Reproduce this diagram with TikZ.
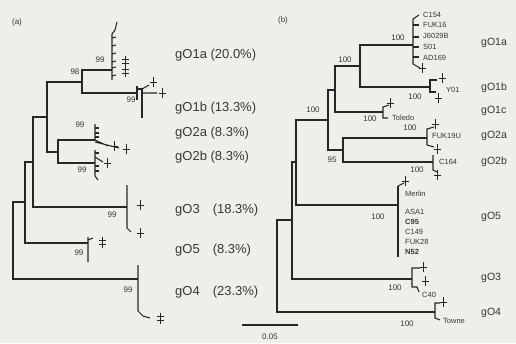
\documentclass[tikz,border=0pt]{standalone}
\usepackage{fontspec}
\setmainfont{Liberation Sans}
\usetikzlibrary{positioning}
\definecolor{paper}{HTML}{EFEFEA}
\definecolor{ink}{HTML}{262626}
\definecolor{txt}{HTML}{363636}
\tikzset{
  tipplus/.pic={\draw[draw=ink,line width=0.9pt] (-3.5,0) -- (3.5,0) (0,-5) -- (0,5);},
  tipdbl/.pic={\draw[draw=ink,line width=0.9pt] (-3.5,-1.8) -- (3.5,-1.8) (-3.5,2) -- (3.5,2) (0,-5.5) -- (0,5.5);}
}
\begin{document}
\begin{tikzpicture}[x=1pt,y=-1pt,
    branch/.style={draw=ink,line width=1.2pt},
    tip/.style={draw=ink,line width=1.05pt},
    boot/.style={text=txt,inner sep=0pt,font=\fontsize{8}{8}\selectfont},
    strain/.style={text=txt,inner sep=0pt,anchor=west,font=\fontsize{7.5}{7.5}\selectfont},
    cladea/.style={text=txt,inner sep=0pt,anchor=west,font=\fontsize{13}{13}\selectfont},
    cladeb/.style={text=txt,inner sep=0pt,anchor=west,font=\fontsize{10.5}{10.5}\selectfont}]
            \fill[paper] (0,0) rectangle (516,343);
            \useasboundingbox (0,0) rectangle (516,343);

            \node[text=txt,font=\fontsize{8}{8}\selectfont] (pa) at (17,22) {(a)};
            \node[text=txt,font=\fontsize{8}{8}\selectfont] (pb) at (283,20) {(b)};

            \coordinate (aR) at (13,241);
            \coordinate (aA) at (25,202);
            \coordinate (aB) at (33,162);
            \coordinate (aC) at (47,117);
            \coordinate (aD) at (82,82);
            \coordinate (aE) at (58,152);
            \coordinate (aO1a) at (112,70);
            \coordinate (aO1b) at (137,93);
            \coordinate (aO2a) at (95,140);
            \coordinate (aO2b) at (95,163);
            \coordinate (aO3) at (127,207);
            \coordinate (aO5) at (88,243);
            \coordinate (aO4) at (138,279);

            \draw[branch] (aR) |- (aA) (aR) |- (aO4) (aA) |- (aB) (aA) |- (aO5)
                (aB) |- (aC) (aB) |- (aO3) (aC) |- (aD) (aC) |- (aE)
                (aD) |- (aO1a) (aD) |- (aO1b) (aE) |- (aO2a) (aE) |- (aO2b);

            \draw[tip] (112,80) -- (112,34) -- (115,30) -- (117,22);
            \foreach \y in {38,46,54,62,68,76} \draw[tip] (112,\y) -- +(4,-1);
            \pic at (125,61) {tipdbl};
            \pic at (125,71) {tipdbl};

            \draw[tip] (137,86) -- (137,100);
            \draw[tip] (137,89) -- (142,89) -- (142,118);
            \draw[tip] (142,89) -- (149,85) (142,93) -- (157,93);
            \pic at (153,82) {tipplus};
            \pic at (162,93) {tipplus};

            \draw[tip] (95,124) -- (95,140) -- (108,146) (95,142) -- (119,148);
            \foreach \y in {128,133,137} \draw[tip] (95,\y) -- +(4,0);
            \pic at (114,146) {tipplus};
            \pic at (126,149) {tipplus};
            \draw[tip] (95,150) -- (95,176) -- (98,180) (95,157) -- (103,162);
            \foreach \y in {153,166,171} \draw[tip] (95,\y) -- +(4,0);
            \pic at (107,163) {tipplus};

            \draw[tip] (127,185) -- (127,228) -- (131,232);
            \pic at (140,205) {tipplus};
            \pic at (140,233) {tipplus};
            \draw[tip] (88,237) -- (88,262) (88,240) -- (93,238);
            \pic at (102,242) {tipdbl};
            \draw[tip] (138,265) -- (138,311) -- (143,316) -- (150,318);
            \pic at (160,318) {tipdbl};

            \node[boot] (aB1) at (100,60) {99};
            \node[boot] (aB2) at (75,72) {98};
            \node[boot] (aB3) at (131,100) {99};
            \node[boot] (aB4) at (80,125) {99};
            \node[boot] (aB5) at (82,170) {99};
            \node[boot] (aB6) at (112,215) {99};
            \node[boot] (aB7) at (79,253) {99};
            \node[boot] (aB8) at (128,290) {99};

            \node[cladea] (aL1a) at (175,55) {gO1a (20.0\%)};
            \node[cladea] (aL1b) at (175,108) {gO1b (13.3\%)};
            \node[cladea] (aL2a) at (175,133) {gO2a (8.3\%)};
            \node[cladea] (aL2b) at (175,157) {gO2b (8.3\%)};
            \node[cladea] (aL3) at (175,210) {gO3\quad(18.3\%)};
            \node[cladea] (aL5) at (175,250) {gO5\quad(8.3\%)};
            \node[cladea] (aL4) at (175,292) {gO4\quad(23.3\%)};

            \coordinate (bR) at (277,267);
            \coordinate (bA) at (292,220);
            \coordinate (bB) at (296,162);
            \coordinate (bC) at (328,120);
            \coordinate (bD) at (335,90);
            \coordinate (bE) at (343,150);
            \coordinate (bF) at (360,66);
            \coordinate (bO1a) at (413,45);
            \coordinate (bO1b) at (430,87);
            \coordinate (bO1c) at (383,112);
            \coordinate (bO2a) at (427,138);
            \coordinate (bO2b) at (433,162);
            \coordinate (bO5) at (398,205);
            \coordinate (bO3) at (412,279);
            \coordinate (bO4) at (435,312);

            \draw[branch] (bR) |- (bA) (bR) |- (bO4) (bA) |- (bB) (bA) |- (bO3)
                (bB) |- (bC) (bB) |- (bO5) (bC) |- (bD) (bC) |- (bE)
                (bD) |- (bF) (bD) |- (bO1c) (bF) |- (bO1a) (bF) |- (bO1b)
                (bE) |- (bO2a) (bE) |- (bO2b);

            \draw[tip] (419,15) -- (413,19) -- (413,64) -- (420,68);
            \foreach \y in {25,37,47,57} \draw[tip] (413,\y) -- +(6,0);
            \pic at (422,68) {tipplus};
            \draw[tip] (437,80) -- (430,80) -- (430,92) -- (436,92);
            \pic at (442,78) {tipplus};
            \pic at (438,98) {tipplus};
            \draw[tip] (389,105) -- (383,107) -- (383,118) -- (388,118);
            \pic at (390,103) {tipplus};
            \draw[tip] (434,127) -- (427,129) -- (427,145) -- (434,147);
            \pic at (435,124) {tipplus};
            \pic at (437,149) {tipplus};
            \draw[tip] (433,155) -- (433,170) -- (437,172);
            \pic at (437,175) {tipplus};
            \draw[tip] (398,186) -- (398,257);
            \draw[draw=ink,line width=2pt] (398,190) -- (398,224);
            \draw[tip] (398,186) -- (404,183);
            \pic at (405,181) {tipplus};
            \draw[tip] (420,268) -- (412,268) -- (412,287) -- (417,287) -- (419,292);
            \pic at (423,267) {tipplus};
            \pic at (425,281) {tipplus};
            \draw[tip] (440,303) -- (435,303) -- (435,318) -- (440,320);
            \pic at (443,302) {tipplus};

            \node[boot] (bB1) at (398,38) {100};
            \node[boot] (bB2) at (345,60) {100};
            \node[boot] (bB3) at (313,110) {100};
            \node[boot] (bB4) at (415,97) {100};
            \node[boot] (bB5) at (370,119) {100};
            \node[boot] (bB6) at (410,128) {100};
            \node[boot] (bB7) at (332,160) {95};
            \node[boot] (bB8) at (417,170) {100};
            \node[boot] (bB9) at (378,217) {100};
            \node[boot] (bB10) at (395,288) {100};
            \node[boot] (bB11) at (407,324) {100};

            \node[strain] (sC154) at (423,15) {C154};
            \node[strain] (sFUK16) at (423,25) {FUK16};
            \node[strain] (sJ6029B) at (423,36) {J6029B};
            \node[strain] (sS01) at (423,47) {S01};
            \node[strain] (sAD169) at (423,58) {AD169};
            \node[strain] (sY01) at (446,90) {Y01};
            \node[strain] (sToledo) at (392,118) {Toledo};
            \node[strain] (sFUK19U) at (432,136) {FUK19U};
            \node[strain] (sC164) at (439,162) {C164};
            \node[strain] (sMerlin) at (405,194) {Merlin};
            \node[strain] (sASA1) at (405,212) {ASA1};
            \node[strain,font=\bfseries\fontsize{7.5}{7.5}\selectfont] (sC95) at (405,222) {C95};
            \node[strain] (sC149) at (405,232) {C149};
            \node[strain] (sFUK28) at (405,242) {FUK28};
            \node[strain,font=\bfseries\fontsize{7.5}{7.5}\selectfont] (sN52) at (405,252) {N52};
            \node[strain] (sC40) at (422,295) {C40};
            \node[strain] (sTowne) at (443,321) {Towne};

            \node[cladeb] (bL1a) at (481,43) {gO1a};
            \node[cladeb] (bL1b) at (481,88) {gO1b};
            \node[cladeb] (bL1c) at (481,111) {gO1c};
            \node[cladeb] (bL2a) at (481,136) {gO2a};
            \node[cladeb] (bL2b) at (481,162) {gO2b};
            \node[cladeb] (bL5) at (481,217) {gO5};
            \node[cladeb] (bL3) at (481,278) {gO3};
            \node[cladeb] (bL4) at (481,313) {gO4};

            \coordinate (sbL) at (242,325);
            \coordinate (sbR) at (298,325);
            \draw[branch] (sbL) -- (sbR);
            \node[boot] (sbT) at (270,337) {0.05};
        \end{tikzpicture}
\end{document}
